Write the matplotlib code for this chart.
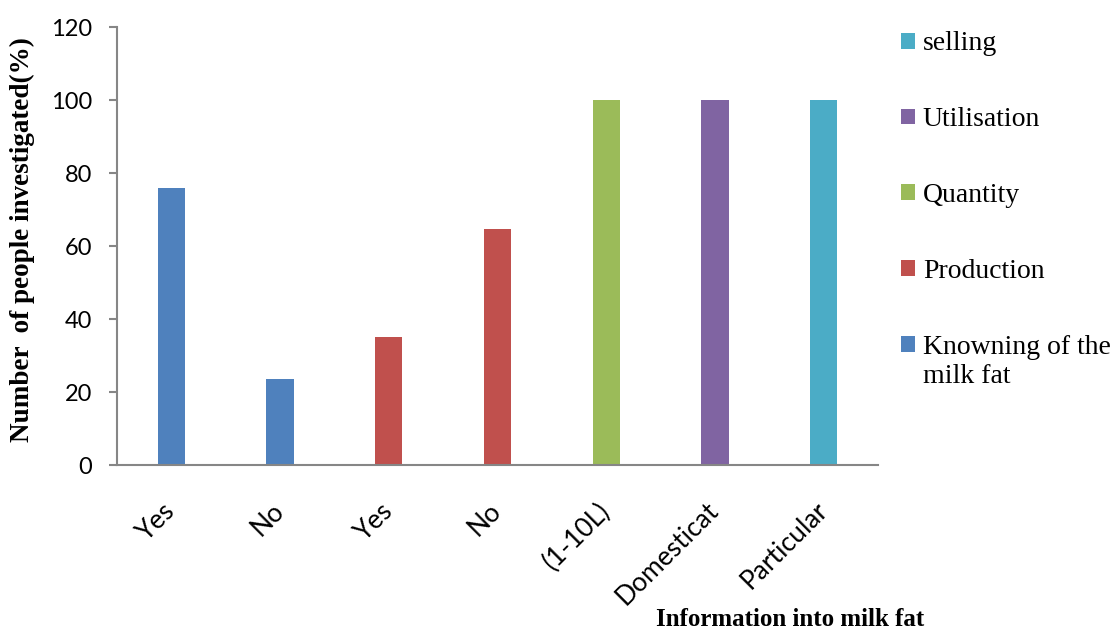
import matplotlib
matplotlib.use("Agg")
import matplotlib.pyplot as plt
from matplotlib.patches import Patch

# survey answers about milk fat, one bar per answer
categories = ["Yes", "No", "Yes", "No", "(1-10L)", "Domesticat", "Particular"]
values = [76, 23.5, 35.2, 64.6, 100, 100, 100]
groups = ["Knowning of the", "Knowning of the", "Production", "Production",
          "Quantity", "Utilisation", "selling"]

group_colors = {
    "Knowning of the": "#4F81BD",
    "Production": "#C0504D",
    "Quantity": "#9BBB59",
    "Utilisation": "#8064A2",
    "selling": "#4BACC6",
}
legend_order = ["selling", "Utilisation", "Quantity", "Production", "Knowning of the"]

fig = plt.figure(figsize=(11.12, 6.3), dpi=100)
ax = fig.add_axes([0.1052, 0.2619, 0.6844, 0.6951])

x = list(range(len(categories)))
ax.bar(x, values, width=0.25, color=[group_colors[g] for g in groups])

ax.set_xlim(-0.5, len(categories) - 0.5)
ax.set_ylim(0, 120)
ax.set_yticks(range(0, 121, 20))

for side in ("top", "right"):
    ax.spines[side].set_visible(False)
for side in ("left", "bottom"):
    ax.spines[side].set_color("#868686")
    ax.spines[side].set_linewidth(1.5)

ax.tick_params(axis="y", length=6, width=1.5, color="#868686", pad=12,
               labelsize=17)
ax.tick_params(axis="x", length=0, pad=30, labelsize=19)
for lab in ax.get_yticklabels():
    lab.set_fontfamily("Lato")

ax.set_xticks(x)
ax.set_xticklabels(categories, rotation=45, ha="right", va="center",
                   rotation_mode="anchor", family="Lato")

ax.set_ylabel("Number  of people investigated(%)", family="Liberation Serif",
              fontweight="bold", fontsize=19.5)
ax.yaxis.set_label_coords(-0.108, 0.515)
ax.set_xlabel("Information into milk fat", family="Liberation Serif",
              fontweight="bold", fontsize=18, va="center")
ax.xaxis.set_label_coords(0.884, -0.352)

handles = [Patch(facecolor=group_colors[g], edgecolor="none") for g in legend_order]
leg = fig.legend(handles, legend_order, loc="upper left",
                 bbox_to_anchor=(0.810, 0.950), frameon=False,
                 prop={"family": "Liberation Serif", "size": 20},
                 handlelength=0.5, handleheight=0.5, handletextpad=0.3,
                 labelspacing=1.83, borderaxespad=0, borderpad=0)

# second line of the last legend entry sits under its first line
fig.canvas.draw()
ax.annotate("milk fat", xy=(0, 0), xycoords=leg.get_texts()[-1],
            xytext=(0, -3), textcoords="offset points", va="top", ha="left",
            family="Liberation Serif", fontsize=20, annotation_clip=False)

fig.savefig("out.png", dpi=100, facecolor="white")
